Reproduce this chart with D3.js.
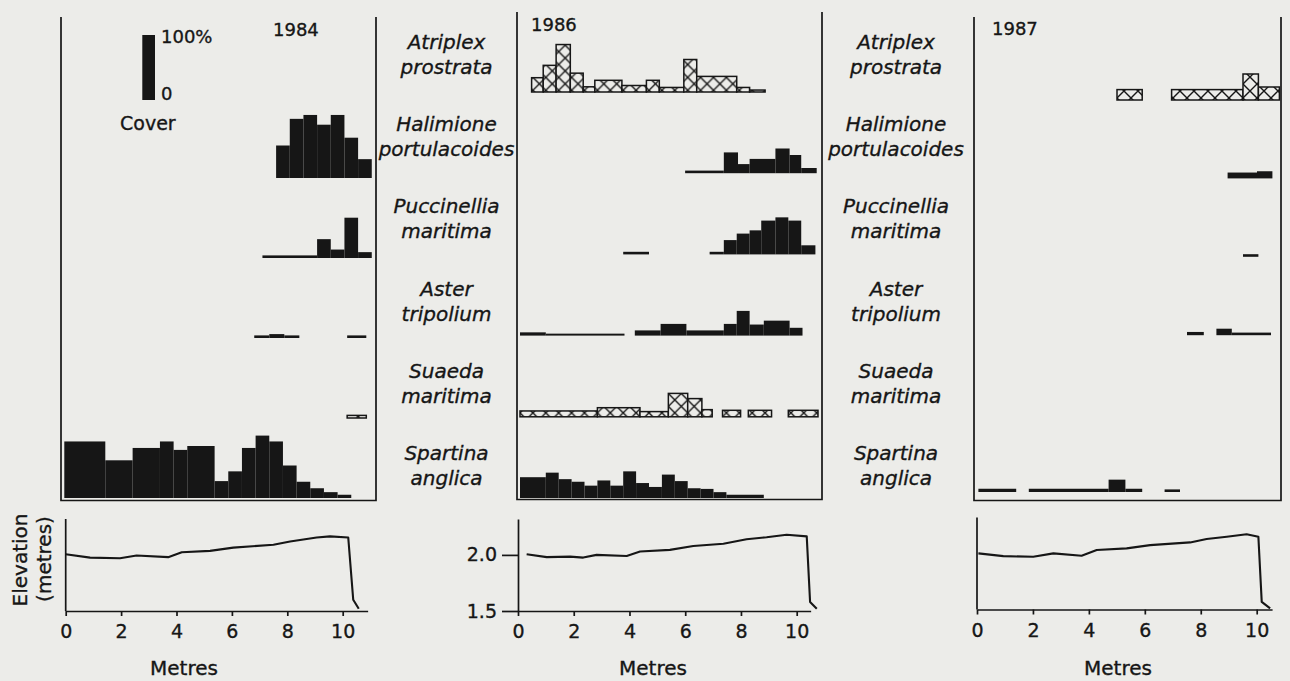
<!DOCTYPE html>
<html>
<head>
<meta charset="utf-8">
<script src="https://cdn.jsdelivr.net/npm/d3@7"></script>
<style>
  html, body { margin: 0; padding: 0; background: #ecece9; }
  svg { display: block; }
  text { font-family: "DejaVu Sans", sans-serif; fill: #161616; stroke: #161616; stroke-width: 0.35px; }
</style>
</head>
<body>
<svg id="chart" width="1290" height="681"></svg>
<script>
// Species along the transect, top row to bottom row
const species = [
  "Atriplex prostrata",
  "Halimione portulacoides",
  "Puccinellia maritima",
  "Aster tripolium",
  "Suaeda maritima",
  "Spartina anglica"
];
const hatchedSpecies = ["Atriplex prostrata", "Suaeda maritima"];
const years = [1984, 1986, 1987];

// Cover runs along the transect: [from metre, to metre, cover %]
const atriplex1984 = [];
const atriplex1986 = [[0.45,0.9,22],[0.9,1.4,41],[1.4,1.95,73],[1.95,2.45,29],[2.45,2.9,8],[2.9,3.95,18],[3.95,4.9,10],[4.9,5.4,18],[5.4,6.35,7],[6.35,6.85,50],[6.85,8.4,24],[8.4,8.9,7],[8.9,9.5,3]];
const atriplex1987 = [[5.0,5.9,16],[6.95,9.5,16],[9.5,10.05,40],[10.05,10.8,20]];

const halimione1984 = [[7.75,8.25,50],[8.25,8.75,91],[8.75,9.25,97],[9.25,9.75,82],[9.75,10.25,97],[10.25,10.75,62],[10.75,11.25,29]];
const halimione1986 = [[6.4,7.9,4],[7.9,8.45,32],[8.45,8.9,14],[8.9,9.9,22],[9.9,10.45,38],[10.45,10.9,28],[10.9,11.5,8]];
const halimione1987 = [[8.95,10.0,9],[10.0,10.55,11]];

const puccinellia1984 = [[7.25,9.25,4],[9.25,9.75,29],[9.75,10.25,13],[10.25,10.75,62],[10.75,11.25,9]];
const puccinellia1986 = [[4.0,5.0,4],[7.35,7.9,4],[7.9,8.4,22],[8.4,8.9,32],[8.9,9.35,37],[9.35,9.9,52],[9.9,10.4,57],[10.4,10.9,52],[10.9,11.45,14]];
const puccinellia1987 = [[9.5,10.05,4]];

const aster1984 = [[6.95,7.5,4],[7.5,8.05,6],[8.05,8.6,4],[10.35,11.05,4]];
const aster1986 = [[0,1.0,5],[1.0,4.05,3],[4.45,5.45,8],[5.45,6.45,18],[6.45,7.9,8],[7.9,8.4,18],[8.4,8.9,38],[8.9,9.45,17],[9.45,10.45,23],[10.45,10.95,12]];
const aster1987 = [[7.5,8.1,5],[8.55,9.1,10],[9.1,10.5,4]];

const suaeda1984 = [[10.35,11.05,4]];
const suaeda1986 = [[0,3.0,9],[3.0,4.65,14],[4.65,5.75,8],[5.75,6.5,36],[6.5,7.05,28],[7.05,7.45,11],[7.85,8.55,10],[8.85,9.75,10],[10.4,11.55,10]];
const suaeda1987 = [];

const spartina1984 = [[0,1.5,87],[1.5,2.5,58],[2.5,3.5,77],[3.5,4,87],[4,4.5,74],[4.5,5.5,80],[5.5,6,26],[6,6.5,41],[6.5,7,77],[7,7.5,96],[7.5,8,87],[8,8.5,50],[8.5,9,25],[9,9.5,15],[9.5,10,9],[10,10.5,5]];
const spartina1986 = [[0,1,32],[1,1.5,39],[1.5,2,29],[2,2.5,25],[2.5,3,19],[3,3.5,27],[3.5,4,19],[4,4.5,41],[4.5,5,23],[5,5.5,17],[5.5,6,36],[6,6.5,26],[6.5,7,15],[7,7.5,14],[7.5,8,9],[8,9.45,5]];
const spartina1987 = [[0.05,1.4,5],[1.85,4.7,5],[4.7,5.3,19],[5.3,5.9,5],[6.7,7.25,4]];

// Surveyed elevation profile: [metre, elevation m]
const elevation1984 = [[0,2.006],[0.88,1.976],[1.96,1.97],[2.56,1.994],[3.7,1.98],[4.19,2.024],[5.21,2.036],[6.05,2.065],[7.5,2.09],[8.1,2.12],[9.06,2.155],[9.54,2.165],[10.2,2.155],[10.38,1.6],[10.58,1.52]];
const elevation1986 = [[0.31,2.006],[1.03,1.98],[1.87,1.985],[2.34,1.976],[2.82,2.0],[3.9,1.99],[4.38,2.03],[5.45,2.045],[6.29,2.08],[7.37,2.1],[8.2,2.14],[8.92,2.158],[9.64,2.18],[10.36,2.165],[10.48,1.58],[10.72,1.52]];
const elevation1987 = [[0.05,2.0],[0.94,1.976],[2.01,1.97],[2.73,2.0],[3.74,1.979],[4.28,2.03],[5.35,2.045],[6.19,2.074],[7.62,2.098],[8.21,2.128],[8.93,2.148],[9.64,2.17],[10.06,2.148],[10.18,1.568],[10.48,1.51]];

// Axis ticks and labels
const metreTicks = [0, 2, 4, 6, 8, 10];
const elevationTicks = [1.5, 2.0];
const elevationDomain = [1.5, 2.32];
const legendLabels = { top: "100%", bottom: "0", title: "Cover" };

const coverRuns = {
  1984: [atriplex1984, halimione1984, puccinellia1984, aster1984, suaeda1984, spartina1984],
  1986: [atriplex1986, halimione1986, puccinellia1986, aster1986, suaeda1986, spartina1986],
  1987: [atriplex1987, halimione1987, puccinellia1987, aster1987, suaeda1987, spartina1987]
};
const elevations = { 1984: elevation1984, 1986: elevation1986, 1987: elevation1987 };

// ---- layout ----
const ink = "#161616";
const paper = "#ecece9";
const panels = [
  { year: 1984, left: 61,  right: 376,  top: 17, bottom: 500.5, cx0: 64.3, cpm: 27.33, rows: [98, 498],
    yearX: 273, yearY: 36, ex0: 65.7, epm: 27.7, axisEnd: 10.9, eBottom: 611, yLabels: false, metresX: 184 },
  { year: 1986, left: 517, right: 822,  top: 12, bottom: 499.5, cx0: 520,  cpm: 25.8,  rows: [92, 498],
    yearX: 531, yearY: 31, ex0: 518,  epm: 27.87, axisEnd: 10.5, eBottom: 611, yLabels: true, metresX: 653 },
  { year: 1987, left: 974, right: 1281, top: 17, bottom: 500.5, cx0: 977,  cpm: 28,    rows: [100, 492],
    yearX: 992, yearY: 35, ex0: 977,  epm: 27.97, axisEnd: 10.55, eBottom: 609.5, yLabels: false, metresX: 1118 }
];

const svg = d3.select("#chart");
svg.append("rect").attr("width", 1290).attr("height", 681).attr("fill", paper);
const defs = svg.append("defs");

// bar height for a cover value: 100 % = 65 px
const coverH = d3.scaleLinear().domain([0, 100]).range([0, 65]);

panels.forEach(p => {
  const g = svg.append("g");
  const cx = d3.scaleLinear().domain([0, 10.5]).range([p.cx0, p.cx0 + p.cpm * 10.5]);
  const rowY = d3.scalePoint().domain(species).range(p.rows);

  // cross-hatch fill, one tile per half-metre quadrat
  const w = p.cpm * 0.5;
  const pat = defs.append("pattern").attr("id", "hatch" + p.year)
    .attr("patternUnits", "userSpaceOnUse")
    .attr("x", p.cx0).attr("y", 0).attr("width", w).attr("height", w);
  pat.append("rect").attr("width", w).attr("height", w).attr("fill", paper);
  pat.append("path").attr("d", `M0,0L${w},${w}M${w},0L0,${w}`)
    .attr("stroke", ink).attr("stroke-width", 1.4).attr("fill", "none");

  // panel frame: sides and base
  g.append("path")
    .attr("d", `M${p.left},${p.top}V${p.bottom}H${p.right}V${p.top}`)
    .attr("fill", "none").attr("stroke", ink).attr("stroke-width", 1.7);

  // cover histograms
  species.forEach((sp, i) => {
    const base = rowY(sp);
    const hatched = hatchedSpecies.includes(sp);
    g.selectAll(null).data(coverRuns[p.year][i]).join("rect")
      .attr("x", d => cx(d[0]))
      .attr("width", d => cx(d[1]) - cx(d[0]))
      .attr("y", d => base - coverH(d[2]))
      .attr("height", d => coverH(d[2]))
      .attr("fill", hatched ? `url(#hatch${p.year})` : ink)
      .attr("stroke", hatched ? ink : "none")
      .attr("stroke-width", hatched ? 1.5 : 0);
  });

  // year label
  g.append("text").attr("x", p.yearX).attr("y", p.yearY)
    .attr("font-size", 18).text(p.year);

  // elevation profile
  const ex = d3.scaleLinear().domain([0, p.axisEnd]).range([p.ex0, p.ex0 + p.epm * p.axisEnd]);
  const ey = d3.scaleLinear().domain(elevationDomain).range([p.eBottom, p.eBottom - 92]);

  const xAxis = g.append("g").attr("transform", `translate(0,${p.eBottom})`)
    .call(d3.axisBottom(ex).tickValues(metreTicks).tickSize(5).tickSizeOuter(0).tickPadding(9)
      .tickFormat(d3.format("d")));
  xAxis.attr("font-family", null).attr("font-size", null).attr("color", ink);
  xAxis.selectAll("path, line").attr("stroke-width", 1.7);
  xAxis.selectAll("text").attr("font-size", 19);

  if (p.yLabels) {
    const yAxis = g.append("g").attr("transform", `translate(${p.ex0},0)`)
      .call(d3.axisLeft(ey).tickValues(elevationTicks).tickSize(16).tickSizeOuter(0).tickPadding(5)
        .tickFormat(d3.format(".1f")));
    yAxis.attr("font-family", null).attr("font-size", null).attr("color", ink);
    yAxis.selectAll("path, line").attr("stroke-width", 1.7);
    yAxis.selectAll("text").attr("font-size", 19);
  } else {
    g.append("line").attr("x1", p.ex0).attr("x2", p.ex0)
      .attr("y1", ey(elevationDomain[0])).attr("y2", ey(elevationDomain[1]))
      .attr("stroke", ink).attr("stroke-width", 1.7);
  }

  g.append("path").datum(elevations[p.year])
    .attr("d", d3.line().x(d => ex(d[0])).y(d => ey(d[1])))
    .attr("fill", "none").attr("stroke", ink).attr("stroke-width", 2.1)
    .attr("stroke-linejoin", "round");

  g.append("text").attr("x", p.metresX).attr("y", 675)
    .attr("text-anchor", "middle").attr("font-size", 20).text("Metres");
});

// species names between the panels
const labelGenusY = d3.scalePoint().domain(species).range([49, 460]);
[446.5, 896].forEach(cxLabel => {
  const lg = svg.append("g").attr("font-style", "italic").attr("font-size", 20)
    .attr("text-anchor", "middle");
  species.forEach(sp => {
    const [genus, epithet] = sp.split(" ");
    const t = lg.append("text").attr("x", cxLabel).attr("y", labelGenusY(sp));
    t.append("tspan").attr("x", cxLabel).text(genus);
    t.append("tspan").attr("x", cxLabel).attr("dy", 25).text(epithet);
  });
});

// cover legend
const legend = svg.append("g");
legend.append("rect").attr("x", 142.3).attr("width", 12.7)
  .attr("y", 100 - coverH(100)).attr("height", coverH(100)).attr("fill", ink);
legend.append("text").attr("x", 161).attr("y", 43).attr("font-size", 18).text(legendLabels.top);
legend.append("text").attr("x", 161).attr("y", 100).attr("font-size", 18).text(legendLabels.bottom);
legend.append("text").attr("x", 120).attr("y", 130).attr("font-size", 19).text(legendLabels.title);

// elevation axis title
const et = svg.append("g").attr("font-size", 20).attr("text-anchor", "middle");
et.append("text").attr("transform", "translate(27,560) rotate(-90)").text("Elevation");
et.append("text").attr("transform", "translate(51,559) rotate(-90)").text("(metres)");
</script>
</body>
</html>
